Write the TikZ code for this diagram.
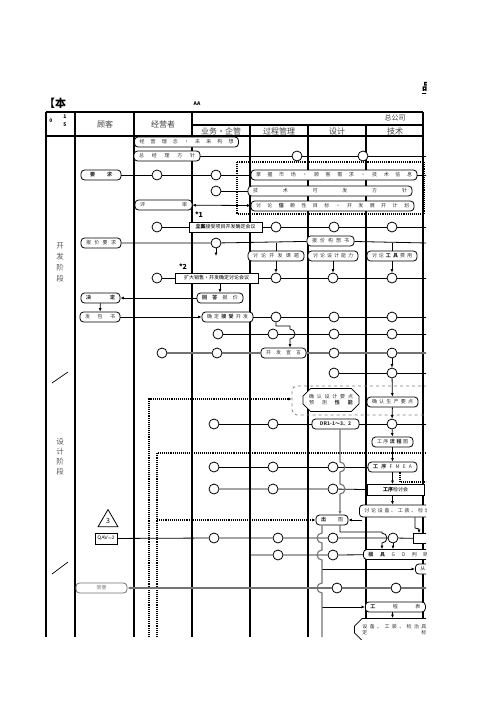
\documentclass[tikz,border=0pt]{standalone}
\usepackage{fontspec}
\setmainfont{Noto Sans CJK SC}
\usetikzlibrary{arrows.meta,shapes.misc,shapes.geometric}
\newcommand{\spr}[2]{\makebox[#1][s]{#2}}
\newcommand{\bx}{\fontsize{5}{6}\selectfont}
\newcommand{\hdf}{\fontsize{8}{9}\selectfont}

\begin{document}
\begin{tikzpicture}[x=1pt, y=-1pt, >={Latex[length=3.5pt,width=3pt]}]
\tikzset{
  lane/.style={line width=1.1pt},
  flow/.style={line width=0.8pt},
  gflow/.style={line width=1.1pt, black!55},
  dots/.style={densely dotted, line width=1.1pt},
  pill/.style={draw, line width=0.8pt, rounded corners=3.5pt, fill=white, minimum height=10pt, inner sep=1.5pt, font=\bx, text=black!80},
  sq/.style={draw, line width=0.8pt, fill=white, minimum height=10pt, inner sep=1.5pt, font=\bx},
  circ/.style={draw, circle, line width=0.8pt, fill=white, minimum size=10pt, inner sep=0pt},
}
\useasboundingbox (0,0) rectangle (496,702);
\clip (0,0) rectangle (426,639);

%\draw [lightgray, dashed](0,0) grid (496,702);

% cabecalho
\node[font=\fontsize{11}{11}\selectfont\bfseries] (ben) at (55,103) {【本};
\node[font=\fontsize{5}{5}\selectfont\bfseries] (aa) at (197,104) {AA};
\node[font=\fontsize{10}{10}\selectfont\bfseries] (pin) at (427,88) {\underline{品}};

\draw[lane] (46,112) -- (423,112);
\draw[lane] (192,125) -- (423,125);
\draw[lane] (46,136) -- (423,136);
\foreach \x in {46,75,134,192,423} \draw[lane] (\x,112) -- (\x,637);
\foreach \x in {250,308,366} \draw[lane] (\x,125) -- (\x,637);

\node[font=\fontsize{5}{5}\selectfont\bfseries] (h0) at (51,121) {0};
\node[font=\fontsize{5}{5}\selectfont\bfseries] (h1) at (65,117) {1};
\node[font=\fontsize{5}{5}\selectfont\bfseries] (h5) at (65,125) {5};
\node[font=\hdf, text=black!75] (hgk) at (105,124) {顾客};
\node[font=\hdf, text=black!75] (hjy) at (163,124) {经营者};
\node[font=\fontsize{7}{8}\selectfont, text=black!75] (hzg) at (395,118) {总公司};
\node[font=\hdf, text=black!75] (hyw) at (221,131) {业务·企管};
\node[font=\hdf, text=black!75] (hgc) at (279,131) {过程管理};
\node[font=\hdf, text=black!75] (hsj) at (337,131) {设计};
\node[font=\hdf, text=black!75] (hjs) at (395,131) {技术};

% fases
\node[font=\fontsize{7.5}{11}\selectfont, text=black!65, align=center] (fk) at (60,262) {开\\发\\阶\\段};
\node[font=\fontsize{7.5}{10}\selectfont, text=black!65, align=center] (fs) at (60,457) {设\\计\\阶\\段};
\draw[line width=0.7pt] (52,383) -- (68,372);
\draw[line width=0.7pt] (52,574) -- (68,562);

% zonas pontilhadas
\draw[dots] (237,162) rectangle (424,214);

% linha 1-2
\node[pill, minimum width=104pt] (lnx) at (186.5,142) {\spr{94pt}{经 营 理 念 ・ 未 来 构 想}};
\node[pill, minimum width=66pt] (zjl) at (167,156) {\spr{56pt}{总 经 理 方 针}};
\node[circ] (c2a) at (297,156) {};
\node[circ] (c2b) at (363,156) {};
\coordinate (e2) at (428,156);
\draw[flow] (zjl) -- (c2a) -- (c2b) -- (e2);

% linha 3
\node[pill, minimum width=40pt, font=\bx\bfseries] (yq) at (101,175) {\spr{22pt}{要 求}};
\node[circ] (c3a) at (157,175) {};
\node[circ] (c3b) at (216,175) {};
\node[pill, minimum width=166pt] (zw) at (334,175) {\spr{156pt}{掌 握 市 场 ・ 顾 客 需 求 ・ 技 术 信 息}};
\coordinate (e3) at (428,175);
\draw[flow] (yq) -- (c3a) -- (c3b) -- (zw) -- (e3);

% linha 4
\node[circ] (c4) at (216,191) {};
\node[pill, minimum width=164pt] (jsf) at (330,191) {\spr{154pt}{技 术 可 发 方 针}};
\draw[flow] (c4) -- (jsf);

% linha 5
\node[pill, minimum width=57pt] (ps) at (163.5,205) {\spr{47pt}{评 审}};
\node[pill, minimum width=163pt] (tlx) at (332.5,206) {\spr{153pt}{讨 论 {\bfseries 信} 赖 性 目 标 ・ 开 发 展 开 计 划}};
\draw[flow,<->] (ps) -- (tlx);
\node[font=\fontsize{7}{7}\selectfont\bfseries] (n1) at (199,215) {*1};

% linha 6
\node[circ] (c6a) at (157,227) {};
\node[sq, minimum width=73pt] (lax) at (225.5,227) {{\bfseries 立案}接受项目开发确定会议};
\node[circ] (c6b) at (276,227) {};
\node[circ] (c6c) at (334,227) {};
\node[circ] (c6d) at (392,227) {};
\coordinate (e6) at (428,227);
\draw[flow] (c6a) -- (lax) -- (c6b) -- (c6c) -- (c6d) -- (e6);

% linha 7
\node[pill, minimum width=40pt] (bjq) at (101,243) {\spr{30pt}{报 价 要 求}};
\node[circ] (c7) at (216,243) {};
\node[pill, minimum width=47pt] (bjg) at (330.5,241) {\spr{37pt}{报 价 构 想 书}};
\coordinate (e7) at (428,243);
\coordinate (d7) at (216,256);
\draw[flow] (bjq) -- (c7) -- (bjg) -- (e7);
\draw[flow,->] (c7) -- (d7);
\coordinate (k1) at (276,243);
\coordinate (k3) at (392,243);

% linha 8
\node[pill, minimum width=56pt] (tk) at (276,256) {\spr{46pt}{讨 论 开 发 课 题}};
\node[pill, minimum width=50pt] (tn) at (333,256) {\spr{40pt}{讨 论 设 计 能 力}};
\node[pill, minimum width=50pt] (tg) at (392,256) {\spr{40pt}{讨 论 {\bfseries 工 具} 费 用}};
\draw[flow] (k1) -- (tk.north -| k1);
\draw[flow] (k3) -- (tg.north -| k3);

% linha 9
\node[font=\fontsize{7}{7}\selectfont\bfseries] (n2) at (183,267) {*2};
\node[circ] (c9a) at (157,278) {};
\node[sq, minimum width=83pt] (kd) at (216.5,278) {扩大销售・开发确定讨论会议};
\node[circ] (c9b) at (276,278) {};
\node[circ] (c9c) at (333,278) {};
\node[circ] (c9d) at (392,278) {};
\coordinate (e9) at (428,278);
\draw[flow] (c9a) -- (kd) -- (c9b) -- (c9c) -- (c9d) -- (e9);
\draw[flow,->] (tk) -- (c9b);
\draw[flow,->] (tn) -- (c9c);
\draw[flow,->] (tg) -- (c9d);

% linha 10
\node[pill, minimum width=39pt, font=\bx\bfseries] (jd) at (100.5,298) {\spr{29pt}{决 定}};
\node[pill, minimum width=46pt] (hd) at (220,298) {\spr{36pt}{{\bfseries 回 答} 报 价}};
\draw[flow,->] (kd.south -| hd) -- (hd);
\draw[flow,->] (hd) -- (jd);

% linha 11
\node[pill, minimum width=40pt] (fb) at (100,317) {\spr{30pt}{发 包 书}};
\node[pill, minimum width=51pt] (qd) at (227.5,317) {\spr{41pt}{确 定 {\bfseries 接 受} 开 发}};
\node[circ] (c11a) at (276,317) {};
\node[circ] (c11b) at (334,317) {};
\node[circ] (c11c) at (392,317) {};
\coordinate (e11) at (428,317);
\draw[flow,->] (jd) -- (fb);
\draw[flow,->] (fb) -- (qd);
\draw[flow] (qd) -- (c11a) -- (c11b) -- (c11c) -- (e11);

% linha 12
\node[circ] (c12a) at (218,334) {};
\node[circ] (c12b) at (273,334) {};
\node[circ] (c12c) at (334,334) {};
\node[circ] (c12d) at (392,334) {};
\coordinate (e12) at (428,334);
\draw[flow] (c12a) -- (c12b) -- (c12c) -- (c12d) -- (e12);

% linha 13
\node[circ] (c13a) at (162,353) {};
\node[circ] (c13b) at (217,353) {};
\node[pill, minimum width=45pt] (kx) at (283.5,353) {\spr{35pt}{开 发 宣 言}};
\node[circ] (c13c) at (334,353) {};
\node[circ] (c13d) at (392,353) {};
\coordinate (e13) at (428,353);
\draw[gflow] (c13a) -- (c13b) -- (kx) -- (c13c) -- (c13d) -- (e13);
\coordinate (b11) at (290,326);
\draw[flow,->] (c11a) -- (c11a |- b11) -- (b11) -- ++(0,3) arc[start angle=-90, end angle=90, radius=5] -- (b11 |- kx.north);

% linha 14
\node[circ] (c14a) at (334,373) {};
\node[circ] (c14b) at (392,373) {};
\coordinate (e14) at (428,373);
\draw[flow] (c14a) -- (c14b) -- (e14);
\draw[flow,->] (c13d) -- (c14b);

% pontos de confirmacao
\node[draw, black!50, dashed, rounded corners=5pt, line width=0.8pt, minimum width=140pt, minimum height=29pt] (grp) at (362,400.5) {};
\node[chamfered rectangle, chamfered rectangle xsep=4pt, draw, line width=0.8pt, fill=white, minimum width=56pt, minimum height=23pt, inner sep=1pt, font=\bx, text=black!80, align=center] (qs) at (331,400) {\spr{44pt}{确 认 设 计 要 点}\\\spr{44pt}{预 测 {\bfseries 性 能}}};
\node[pill, minimum width=51pt] (sc) at (392.5,402) {\spr{41pt}{确 认 生 产 要 点}};
\draw[flow,->] (c14b) -- (sc);
\coordinate (p1) at (149,637);
\coordinate (p2) at (149,399);
\draw[dots,->] (p1) -- (p2) -- (grp.west |- p2);

% linha 15
\node[circ] (c15a) at (214,424) {};
\node[circ] (c15b) at (273,424) {};
\node[pill, minimum width=47pt, font=\fontsize{5}{6}\selectfont\bfseries] (dr) at (335.5,424) {DR1-1～3、2};
\node[circ] (c15c) at (392,424) {};
\coordinate (e15) at (428,424);
\draw[flow] (c15a) -- (c15b) -- (dr) -- (c15c) -- (e15);
\draw[flow,->] (sc) -- (c15c);
\node[pill, minimum width=41pt] (lc) at (392.5,442) {\spr{31pt}{工 序 {\bfseries 流 程} 图}};
\draw[flow,->] (c15c) -- (lc);

% zona pontilhada 2
\coordinate (q1) at (157,637);
\coordinate (q2) at (157,453);
\coordinate (q3) at (428,453);
\coordinate (q4) at (157,520);
\draw[dots] (q1) -- (q2) -- (q3);

% linha 16
\node[circ] (c16a) at (214,467) {};
\node[circ] (c16b) at (273,467) {};
\node[circ] (c16c) at (333,467) {};
\node[pill, minimum width=49pt] (fm) at (392.5,467) {\spr{39pt}{{\bfseries 工 序} F M E A}};
\draw[flow] (c16a) -- (c16b) -- (c16c) -- (fm);
\draw[flow,->] (lc) -- (fm);
\coordinate (f1) at (400,482);
\coordinate (f2) at (428,482);
\draw[dots] (fm.south -| f1) -- (f1) -- (f2);

% linha 17
\node[circ] (c17a) at (214,489) {};
\node[circ] (c17b) at (273,489) {};
\node[circ] (c17c) at (333,489) {};
\node[sq, minimum width=57pt, minimum height=11pt] (jt) at (395.5,490) {{\bfseries 工序}检讨会};
\draw[flow] (c17a) -- (c17b) -- (c17c) -- (jt);
\draw[flow,->] (fm.south -| lc) -- (jt.north -| lc);

% saida de desenho
\node[pill, minimum width=82pt, minimum height=12pt, anchor=west] (tsb) at (359,511) {\spr{72pt}{讨 论 设 备 、 工 装 、 检 治 具}};
\draw[flow,->] (jt.south -| lc) -- (tsb.north -| lc);
\node[pill, minimum width=32pt] (ct) at (332,520) {\spr{22pt}{{\bfseries 出} 图}};
\coordinate (t1) at (362,520);
\draw[flow,->] (t1) -- (ct);
\draw[dots,->] (q4) -- (ct);
\coordinate (g1) at (340,462);
\draw[gflow,->] (dr.south -| g1) -- (g1) arc[start angle=-90, end angle=90, radius=5] -- ++(0,12) arc[start angle=-90, end angle=90, radius=5] -- (ct.north -| g1);

% linha 18
\node[regular polygon, regular polygon sides=3, draw, line width=0.8pt, minimum size=23pt, inner sep=0pt, font=\fontsize{7}{7}\selectfont] (tri) at (108,521) {3};
\node[draw, line width=0.8pt, fill=white, inner sep=1.5pt, minimum width=22pt, minimum height=11pt, font=\fontsize{5}{6}\sffamily] (qav) at (106,538.5) {QAV=2};
\node[circ] (c18a) at (214,538) {};
\node[circ] (c18b) at (278,538) {};
\node[circ] (c18c) at (333,538) {};
\node[circ] (c18d) at (393,538) {};
\node[draw, line width=0.8pt, fill=white, minimum width=30pt, minimum height=10pt, anchor=west] (rb) at (413,538.5) {};
\draw[flow] (qav) -- (c18a) -- (c18b) -- (c18c) -- (c18d) -- (rb);
\coordinate (t2) at (415,528);
\coordinate (t3) at (419,529);
\draw[flow,->] (tsb.south -| t2) -- (t2) -- (t3) -- (rb.north -| t3);

% linha 19
\coordinate (s19) at (250,555);
\node[circ] (c19a) at (278,555) {};
\node[circ] (c19b) at (333,555) {};
\node[pill, minimum width=70pt, anchor=west] (mj) at (363,554.5) {\spr{60pt}{{\bfseries 模 具} G O 判 断}};
\draw[flow] (s19) -- (c19a) -- (c19b) -- (mj);
\draw[flow,->] (c18d) -- (mj.north -| c18d);
\coordinate (m1) at (340,532);
\coordinate (m2) at (382,532);
\draw[flow,->] (ct.south -| m1) -- (m1) -- (m2) -- ++(0,1) arc[start angle=-90, end angle=90, radius=5] -- (mj.north -| m2);

% linha 20
\coordinate (v20) at (322,569);
\node[pill, minimum width=40pt, anchor=west] (cong) at (415,569) {\spr{30pt}{从 事}};
\draw[flow,->] (v20) -- (cong);

% linha 21
\node[pill, draw=black!55, text=black!55, minimum width=51pt] (ty) at (101.5,588) {同意};
\node[circ] (c21a) at (337,588) {};
\node[circ] (c21b) at (396,588) {};
\coordinate (e21) at (428,588);
\draw[gflow,->] (e21) -- (c21b) -- (c21a) -- (ty);

% linha 22
\coordinate (v22) at (322,607);
\node[pill, minimum width=60pt, anchor=west] (gcb) at (365,607) {\spr{50pt}{{\bfseries 工} 程 表}};
\draw[flow,->] (v22) -- (gcb);
\node[chamfered rectangle, chamfered rectangle xsep=4pt, draw, line width=0.8pt, fill=white, minimum width=80pt, minimum height=22pt, inner sep=2pt, font=\bx, text=black!80, align=left, anchor=north west] (sb) at (358,622) {\spr{64pt}{设 备 、 工 装 、 检 治 具}\\\spr{64pt}{定 标}};
\draw[flow,->] (gcb.south -| lc) -- (sb.north -| lc);

% linha vertical de saida
\coordinate (v1) at (322,637);
\draw[gflow] (ct.south -| v1) -- (322,533) arc[start angle=-90, end angle=-270, radius=5] -- (322,550) arc[start angle=-90, end angle=-270, radius=5] -- (322,583) arc[start angle=-90, end angle=-270, radius=5] -- (v1);

\end{tikzpicture}
\end{document}
